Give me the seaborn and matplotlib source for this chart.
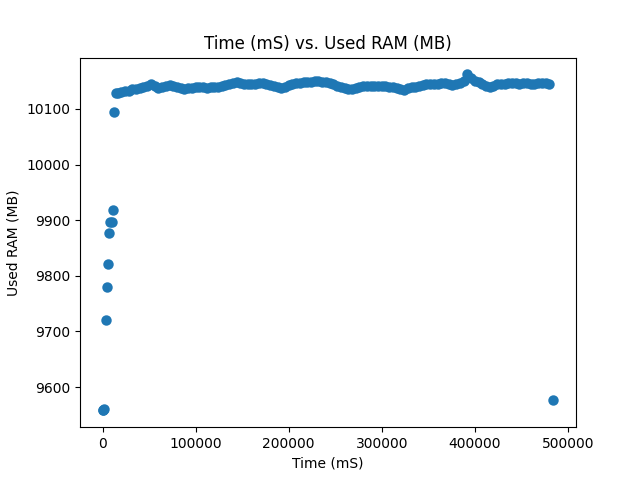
import matplotlib
matplotlib.use('Agg')
from matplotlib import pyplot as plt
import pandas as pd
import seaborn as sns

# start-up readings (ms, MB)
start_time = [0, 1000, 2000, 3500, 4600, 5700, 6800, 8400, 10000, 11000, 12300]
start_ram = [9558, 9559, 9560, 9721, 9780, 9822, 9876, 9897, 9896, 9919, 10095]

# steady readings
run_time = [14000, 17000, 20000, 24000, 28000, 32000, 36000, 40000, 44000, 48000,
            52000, 56000, 60000, 64000, 68000, 72000, 76000, 80000, 84000, 88000,
            92000, 96000, 100000, 104000, 108000, 112000, 116000, 120000, 124000, 128000,
            132000, 136000, 140000, 144000, 148000, 152000, 156000, 160000, 164000, 168000,
            172000, 176000, 180000, 184000, 188000, 192000, 196000, 200000, 204000, 208000,
            212000, 216000, 220000, 224000, 228000, 232000, 236000, 240000, 244000, 248000,
            252000, 256000, 260000, 264000, 268000, 272000, 276000, 280000, 284000, 288000,
            292000, 296000, 300000, 304000, 308000, 312000, 316000, 320000, 324000, 328000,
            332000, 336000, 340000, 344000, 348000, 352000, 356000, 360000, 364000, 368000,
            372000, 376000, 380000, 384000, 388000, 392000, 396000, 400000, 404000, 408000,
            412000, 416000, 420000, 424000, 428000, 432000, 436000, 440000, 444000, 448000,
            452000, 456000, 460000, 464000, 468000, 472000, 476000, 480000]
run_ram = [10128, 10129, 10131, 10132, 10133, 10135, 10136, 10137, 10139, 10142,
           10144, 10141, 10138, 10139, 10141, 10143, 10142, 10139, 10137, 10136,
           10137, 10138, 10140, 10140, 10139, 10138, 10139, 10140, 10140, 10141,
           10143, 10144, 10146, 10148, 10147, 10145, 10145, 10144, 10145, 10147,
           10147, 10145, 10143, 10141, 10139, 10138, 10140, 10143, 10145, 10146,
           10147, 10149, 10148, 10149, 10150, 10150, 10149, 10148, 10147, 10145,
           10142, 10139, 10137, 10136, 10135, 10137, 10139, 10141, 10142, 10142,
           10141, 10142, 10142, 10141, 10140, 10139, 10137, 10135, 10134, 10137,
           10139, 10140, 10141, 10143, 10145, 10144, 10144, 10145, 10146, 10146,
           10144, 10143, 10145, 10147, 10150, 10162, 10156, 10151, 10148, 10145,
           10141, 10140, 10142, 10144, 10145, 10145, 10146, 10146, 10146, 10145,
           10146, 10146, 10145, 10145, 10146, 10147, 10147, 10145]

# final reading
end_time = [484500]
end_ram = [9576]

df = pd.DataFrame({
    'time': start_time + run_time + end_time,
    'ram': start_ram + run_ram + end_ram,
})

fig, ax = plt.subplots(figsize=(6.4, 4.8), dpi=100)
sns.scatterplot(data=df, x='time', y='ram', ax=ax, color='#1f77b4',
                s=36, linewidth=1.5, edgecolor='#1f77b4')
ax.set_title('Time (mS) vs. Used RAM (MB)')
ax.set_xlabel('Time (mS)')
ax.set_ylabel('Used RAM (MB)')
plt.savefig('out.png', dpi=100)
